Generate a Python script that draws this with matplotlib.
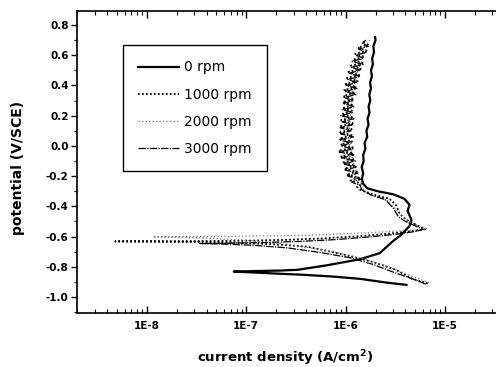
import matplotlib
matplotlib.use("Agg")
import matplotlib.pyplot as plt
from matplotlib.ticker import LogLocator, FixedLocator, MultipleLocator, FuncFormatter

# Polarization curves: current density (A/cm2) and potential (V vs SCE),
# each path runs cathodic end -> corrosion potential -> active peak -> passive range
labels = ["0 rpm", "1000 rpm", "2000 rpm", "3000 rpm"]

i_0 = [4.1e-6, 2.6e-6, 1.4e-6, 7.5e-7, 3.7e-7, 2.0e-7, 1.2e-7, 7.5e-8,
       1.3e-7, 2.2e-7, 3.3e-7, 6.5e-7, 1.4e-6, 2.2e-6, 3.0e-6, 3.6e-6, 4.4e-6,
       4.6e-6, 4.2e-6, 4.4e-6, 3.9e-6, 3.0e-6, 2.1e-6, 1.65e-6, 1.5e-6,
       1.46e-6, 1.5e-6, 1.45e-6, 1.52e-6, 1.5e-6, 1.58e-6, 1.55e-6, 1.65e-6,
       1.62e-6, 1.7e-6, 1.66e-6, 1.74e-6, 1.7e-6, 1.77e-6, 1.73e-6, 1.8e-6,
       1.76e-6, 1.84e-6, 1.8e-6, 1.88e-6, 1.85e-6, 1.93e-6, 1.9e-6, 2.0e-6, 1.98e-6]
E_0 = [-0.92, -0.905, -0.88, -0.865, -0.853, -0.845, -0.838, -0.832,
       -0.828, -0.825, -0.82, -0.79, -0.75, -0.71, -0.63, -0.59, -0.53,
       -0.49, -0.43, -0.39, -0.35, -0.32, -0.30, -0.28, -0.25,
       -0.22, -0.18, -0.14, -0.10, -0.06, -0.02, 0.02, 0.06,
       0.10, 0.14, 0.18, 0.22, 0.26, 0.30, 0.34, 0.38,
       0.42, 0.46, 0.50, 0.54, 0.58, 0.62, 0.66, 0.70, 0.72]

# 1000 rpm: cathodic + active part, then noisy passive part (in uA/cm2)
i_1000_active = [6.7e-6, 4.7e-6, 3.2e-6, 1.86e-6, 8.7e-7, 4.1e-7, 1.8e-7, 8e-8, 3e-8, 1.2e-8, 4.8e-9,
                 1e-8, 3e-8, 9e-8, 2.5e-7, 6e-7, 1.4e-6, 2.8e-6, 4.5e-6, 6.3e-6,
                 4.1e-6, 3.5e-6, 3.2e-6, 2.75e-6, 1.86e-6, 1.4e-6]
E_1000_active = [-0.91, -0.88, -0.82, -0.767, -0.713, -0.667, -0.65, -0.642, -0.637, -0.634, -0.632,
                 -0.631, -0.63, -0.628, -0.622, -0.612, -0.597, -0.58, -0.565, -0.552,
                 -0.49, -0.45, -0.39, -0.35, -0.32, -0.29]
i_1000_passive_uA = [1.30, 1.48, 1.12, 1.36, 1.02, 1.30, 0.97, 1.26, 0.93, 1.22,
                     0.90, 1.20, 0.88, 1.18, 0.89, 1.16, 0.87, 1.17, 0.88, 1.15,
                     0.89, 1.18, 0.90, 1.16, 0.91, 1.19, 0.92, 1.20, 0.93, 1.22,
                     0.95, 1.25, 0.97, 1.28, 1.00, 1.32, 1.03, 1.37, 1.07, 1.42,
                     1.12, 1.48, 1.18, 1.55, 1.25, 1.62, 1.33, 1.68, 1.45]
E_1000_passive = [-0.27, -0.25, -0.23, -0.21, -0.19, -0.17, -0.15, -0.13, -0.11, -0.09,
                  -0.07, -0.05, -0.03, -0.01, 0.01, 0.03, 0.05, 0.07, 0.09, 0.11,
                  0.13, 0.15, 0.17, 0.19, 0.21, 0.23, 0.25, 0.27, 0.29, 0.31,
                  0.33, 0.35, 0.37, 0.39, 0.41, 0.43, 0.45, 0.47, 0.49, 0.51,
                  0.53, 0.55, 0.57, 0.59, 0.61, 0.63, 0.65, 0.67, 0.69]

i_2000 = [6.9e-6, 5.0e-6, 3.5e-6, 2.2e-6, 1.2e-6, 5.5e-7, 2.5e-7, 1.0e-7, 4e-8, 1.15e-8,
          3e-8, 8e-8, 2e-7, 5e-7, 1.1e-6, 2.3e-6, 4e-6, 6.6e-6,
          4.3e-6, 3.6e-6, 3.1e-6, 2.6e-6, 1.9e-6, 1.5e-6,
          1.5e-6, 1.35e-6, 1.3e-6, 1.2e-6, 1.22e-6, 1.12e-6, 1.16e-6, 1.08e-6,
          1.13e-6, 1.07e-6, 1.12e-6, 1.08e-6, 1.14e-6, 1.1e-6, 1.17e-6, 1.13e-6,
          1.22e-6, 1.2e-6, 1.3e-6, 1.3e-6, 1.42e-6, 1.45e-6, 1.58e-6, 1.6e-6, 1.75e-6]
E_2000 = [-0.905, -0.87, -0.83, -0.78, -0.73, -0.685, -0.65, -0.625, -0.61, -0.602,
          -0.60, -0.598, -0.595, -0.59, -0.58, -0.57, -0.56, -0.55,
          -0.50, -0.46, -0.41, -0.36, -0.33, -0.30,
          -0.26, -0.22, -0.18, -0.14, -0.10, -0.06, -0.02, 0.02,
          0.06, 0.10, 0.14, 0.18, 0.22, 0.26, 0.30, 0.34,
          0.38, 0.42, 0.46, 0.50, 0.54, 0.58, 0.62, 0.66, 0.70]

i_3000_active = [6.4e-6, 4.5e-6, 3.0e-6, 1.9e-6, 1.1e-6, 5.5e-7, 2.6e-7, 1.2e-7, 6e-8, 3.4e-8,
                 6e-8, 1.4e-7, 3.5e-7, 8e-7, 1.7e-6, 3.2e-6, 5.2e-6, 6.0e-6,
                 4.0e-6, 3.4e-6, 3.0e-6, 2.5e-6, 1.8e-6, 1.45e-6]
E_3000_active = [-0.915, -0.875, -0.835, -0.785, -0.74, -0.705, -0.675, -0.658, -0.65, -0.646,
                 -0.644, -0.64, -0.632, -0.62, -0.603, -0.585, -0.565, -0.553,
                 -0.50, -0.47, -0.41, -0.355, -0.325, -0.29]
i_3000_passive_uA = [1.40, 1.15, 1.42, 1.05, 1.33, 0.99, 1.28, 0.95, 1.25, 0.91,
                     1.21, 0.86, 1.19, 0.90, 1.14, 0.86, 1.20, 0.89, 1.13, 0.88,
                     1.17, 0.92, 1.21, 0.89, 1.17, 0.93, 1.23, 0.94, 1.19, 0.96,
                     1.27, 0.98, 1.30, 1.01, 1.29, 1.05, 1.40, 1.08, 1.39, 1.15,
                     1.50, 1.16, 1.52, 1.27, 1.60, 1.35, 1.70, 1.45, 1.60]
E_3000_passive = [-0.26, -0.24, -0.22, -0.20, -0.18, -0.16, -0.14, -0.12, -0.10, -0.08,
                  -0.06, -0.04, -0.02, 0.00, 0.02, 0.04, 0.06, 0.08, 0.10, 0.12,
                  0.14, 0.16, 0.18, 0.20, 0.22, 0.24, 0.26, 0.28, 0.30, 0.32,
                  0.34, 0.36, 0.38, 0.40, 0.42, 0.44, 0.46, 0.48, 0.50, 0.52,
                  0.54, 0.56, 0.58, 0.60, 0.62, 0.64, 0.66, 0.68, 0.70]

x_ticks = [1e-8, 1e-7, 1e-6, 1e-5]
x_ticklabels = ["1E-8", "1E-7", "1E-6", "1E-5"]
y_ticks = [-1.0, -0.8, -0.6, -0.4, -0.2, 0.0, 0.2, 0.4, 0.6, 0.8]

i_1000 = i_1000_active + [v * 1e-6 for v in i_1000_passive_uA]
E_1000 = E_1000_active + E_1000_passive
i_3000 = i_3000_active + [v * 1e-6 for v in i_3000_passive_uA]
E_3000 = E_3000_active + E_3000_passive

plt.rcParams["font.family"] = ["DejaVu Sans"]

fig = plt.figure(figsize=(4.96, 3.67), dpi=100)
ax = fig.add_axes([77 / 496, 1 - 313 / 367, 1 - 77 / 496, (313 - 11) / 367])

ax.plot(i_0, E_0, color="black", lw=1.6, ls="-", label=labels[0])
ax.plot(i_1000, E_1000, color="black", lw=1.3, ls=(0, (1, 1.2)), label=labels[1])
ax.plot(i_2000, E_2000, color="0.45", lw=0.9, ls=(0, (1, 1.8)), label=labels[2])
ax.plot(i_3000, E_3000, color="black", lw=0.9, ls=(0, (6, 1, 1, 1)), label=labels[3])

ax.set_xscale("log")
ax.set_xlim(1.98e-9, 3.26e-5)
ax.set_ylim(-1.106, 0.893)

ax.xaxis.set_major_locator(FixedLocator(x_ticks))
ax.xaxis.set_major_formatter(FuncFormatter(lambda v, p: x_ticklabels[x_ticks.index(v)] if v in x_ticks else ""))
ax.xaxis.set_minor_locator(LogLocator(base=10, subs=range(2, 10), numticks=20))
ax.yaxis.set_major_locator(FixedLocator(y_ticks))
ax.yaxis.set_major_formatter(FuncFormatter(lambda v, p: f"{v:.1f}"))
ax.yaxis.set_minor_locator(MultipleLocator(0.1))

ax.tick_params(axis="x", which="both", direction="in", top=True, bottom=True)
ax.tick_params(axis="x", which="major", length=5, width=1.0, labelsize=7.5, pad=6)
ax.tick_params(axis="x", which="minor", length=3, width=0.8)
ax.tick_params(axis="y", which="both", direction="out", right=False)
ax.tick_params(axis="y", which="major", length=4, width=1.0, labelsize=7.5, pad=2)
ax.tick_params(axis="y", which="minor", length=2.5, width=0.8)
for lab in ax.get_xticklabels() + ax.get_yticklabels():
    lab.set_fontweight("bold")

for side in ["left", "bottom", "top"]:
    ax.spines[side].set_linewidth(1.2)
ax.spines["right"].set_visible(False)

ax.set_xlabel("current density (A/cm$^\\mathbf{2}$)", fontsize=9.5, fontweight="bold")
ax.xaxis.set_label_coords(0.497, -0.118)
ax.set_ylabel("potential (V/SCE)", fontsize=10, fontweight="bold")
ax.yaxis.set_label_coords(-0.124, 0.48)

leg = ax.legend(loc="upper left", bbox_to_anchor=(0.11, 0.887), borderaxespad=0,
                frameon=True, fancybox=False, edgecolor="black", framealpha=1,
                fontsize=10, handlelength=2.9, handletextpad=0.4,
                labelspacing=0.95, borderpad=1.1)
leg.get_frame().set_linewidth(1.0)

fig.savefig("out.png", dpi=100)
